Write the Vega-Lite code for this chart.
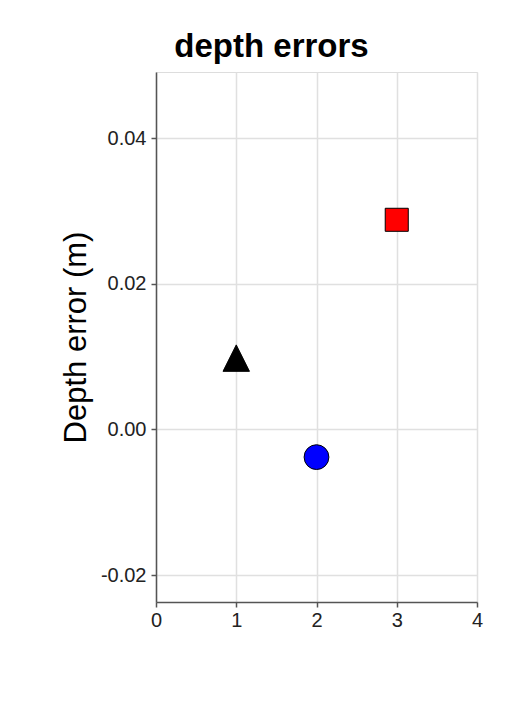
{
  "$schema": "https://vega.github.io/schema/vega-lite/v6.json",
  "autosize": {"type": "none"},
  "width": 321,
  "height": 530,
  "padding": {"left": 156, "top": 72, "right": 45, "bottom": 100},
  "background": "white",
  "title": {
    "text": "depth errors",
    "font": "Liberation Sans",
    "fontSize": 33,
    "fontWeight": "bold",
    "color": "#000000",
    "anchor": "middle",
    "frame": "bounds",
    "offset": 8
  },
  "config": {
    "view": {"stroke": "#dddddd", "strokeWidth": 1},
    "axis": {
      "labelFont": "Liberation Sans",
      "labelFontSize": 20,
      "labelColor": "#222222",
      "titleFont": "Liberation Sans",
      "titleFontSize": 31,
      "titleFontWeight": "normal",
      "titleColor": "#000000",
      "domainColor": "#555555",
      "domainWidth": 1.5,
      "tickColor": "#555555",
      "tickWidth": 1.5,
      "tickSize": 5,
      "gridColor": "#e0e0e0",
      "gridWidth": 1.5
    }
  },
  "data": {
    "values": [
      {"x": 1, "y": 0.0098, "series": "A"},
      {"x": 2, "y": -0.0038, "series": "B"},
      {"x": 3, "y": 0.0288, "series": "C"}
    ]
  },
  "mark": {"type": "point", "filled": true, "stroke": "#000000", "strokeWidth": 1, "opacity": 1},
  "encoding": {
    "x": {
      "field": "x",
      "type": "quantitative",
      "scale": {"domain": [0, 4], "nice": false, "zero": false},
      "axis": {"title": null, "values": [0, 1, 2, 3, 4], "format": "d", "labelPadding": 3, "labelFlush": false}
    },
    "y": {
      "field": "y",
      "type": "quantitative",
      "scale": {"domain": [-0.0237, 0.0491], "nice": false, "zero": false},
      "axis": {
        "title": "Depth error (m)",
        "values": [-0.02, 0, 0.02, 0.04],
        "labelExpr": "replace(format(datum.value, '.2f'), '\u2212', '-')",
        "labelPadding": 5,
        "titlePadding": 8
      }
    },
    "shape": {
      "field": "series",
      "type": "nominal",
      "scale": {"domain": ["A", "B", "C"], "range": ["M0,-1L1,1L-1,1Z", "circle", "square"]},
      "legend": null
    },
    "color": {
      "field": "series",
      "type": "nominal",
      "scale": {"domain": ["A", "B", "C"], "range": ["#000000", "#0000ff", "#ff0000"]},
      "legend": null
    },
    "size": {
      "field": "series",
      "type": "nominal",
      "scale": {"domain": ["A", "B", "C"], "range": [700, 531, 729]},
      "legend": null
    }
  }
}
